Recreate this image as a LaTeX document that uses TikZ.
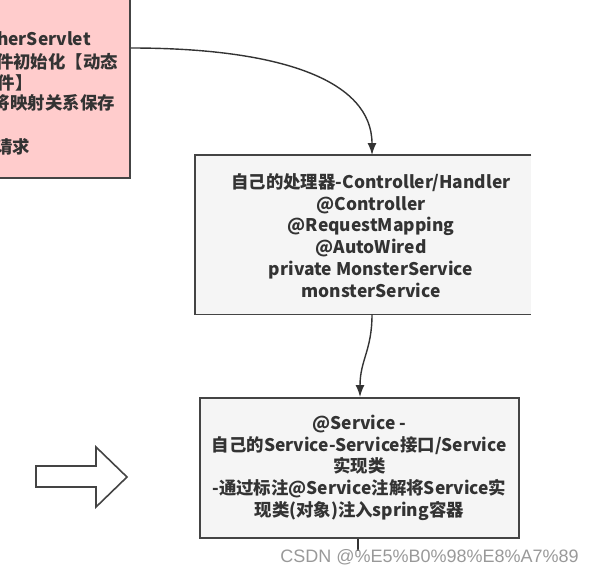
\documentclass[tikz,border=0pt]{standalone}
\usepackage{fontspec}
\newfontfamily\cjk{Noto Sans CJK SC}
\newfontfamily\wm{Liberation Sans}
\usetikzlibrary{arrows.meta,calc}
\definecolor{pinkfill}{HTML}{FFCCCC}
\definecolor{boxfill}{HTML}{F5F5F5}
\definecolor{edgecol}{HTML}{444444}
\definecolor{txtcol}{HTML}{333333}
\begin{document}
\begin{tikzpicture}[x=1pt,y=-1pt,
  boxtext/.style={font=\cjk\bfseries\fontsize{17.4}{21.8}\selectfont, text=txtcol, align=center},
  pinkline/.style={font=\cjk\bfseries\fontsize{17.4}{21.8}\selectfont, text=txtcol, anchor=base east, inner sep=0pt},
  boxedge/.style={draw=edgecol, line width=1.6pt},
  conn/.style={draw=txtcol, line width=1.4pt, -{Latex[length=12pt,width=9pt]}},
  plainconn/.style={draw=txtcol, line width=1.4pt}]
\useasboundingbox (0,0) rectangle (593,574);
\clip (0,0) rectangle (593,574);

% pink box (partly outside the picture)
\node[boxedge, fill=pinkfill, minimum width=160pt, minimum height=200pt, inner sep=0pt, anchor=south east] (pink) at (131,179) {};
\node[pinkline] (pl1) at (91,45) {cherServlet};
\node[pinkline] (pl2) at (118,68) {件初始化【动态};
\node[pinkline] (pl3) at (33,89) {文件】};
\node[pinkline] (pl4) at (115,109) {将映射关系保存};
\node[pinkline] (pl6) at (30,153) {请求};

% controller box (right border not shown)
\node[fill=boxfill, minimum width=336pt, minimum height=159pt, inner sep=0pt, anchor=north west] (mid) at (195,155) {};
\draw[boxedge] (mid.north east) -- (mid.north west) -- (mid.south west) -- (mid.south east);
\node[boxtext] (midtext) at (371,235.5) {自己的处理器-Controller/Handler\\@Controller\\@RequestMapping\\@AutoWired\\private MonsterService\\monsterService};

% service box
\node[boxedge, fill=boxfill, minimum width=319pt, minimum height=140pt, inner sep=0pt, anchor=north west, boxtext] (svc) at (199,397) {@Service -\\自己的Service-Service接口/Service\\实现类\\-通过标注@Service注解将Service实\\现类(对象)注入spring容器};

% connectors
\coordinate (p1) at (131,48);
\coordinate (p2) at ($(mid.north west)+(177,0)$);
\draw[conn] (p1) .. controls (280,48) and (372,80) .. (p2);
\coordinate (q1) at ($(mid.south west)+(177,0)$);
\coordinate (q2) at ($(svc.north west)+(161,0)$);
\draw[conn] (q1) .. controls +(0,36) and +(0,-37) .. (q2);
\coordinate (r1) at ($(svc.south west)+(159,0)$);
\coordinate (r2) at ($(r1)+(0,12)$);
\draw[plainconn] (r1) -- (r2);

% hollow arrow
\draw[draw=edgecol, line width=1.6pt, fill=white, line join=miter] (36,466) -- (96,466) -- (96,447) -- (127,477) -- (96,507) -- (96,487) -- (36,487) -- cycle;

% watermark
\node[font=\wm\fontsize{18}{18}\selectfont, text=black!40, inner sep=0pt] (wm) at (429.5,557) {CSDN @\%E5\%B0\%98\%E8\%A7\%89};
\end{tikzpicture}
\end{document}
